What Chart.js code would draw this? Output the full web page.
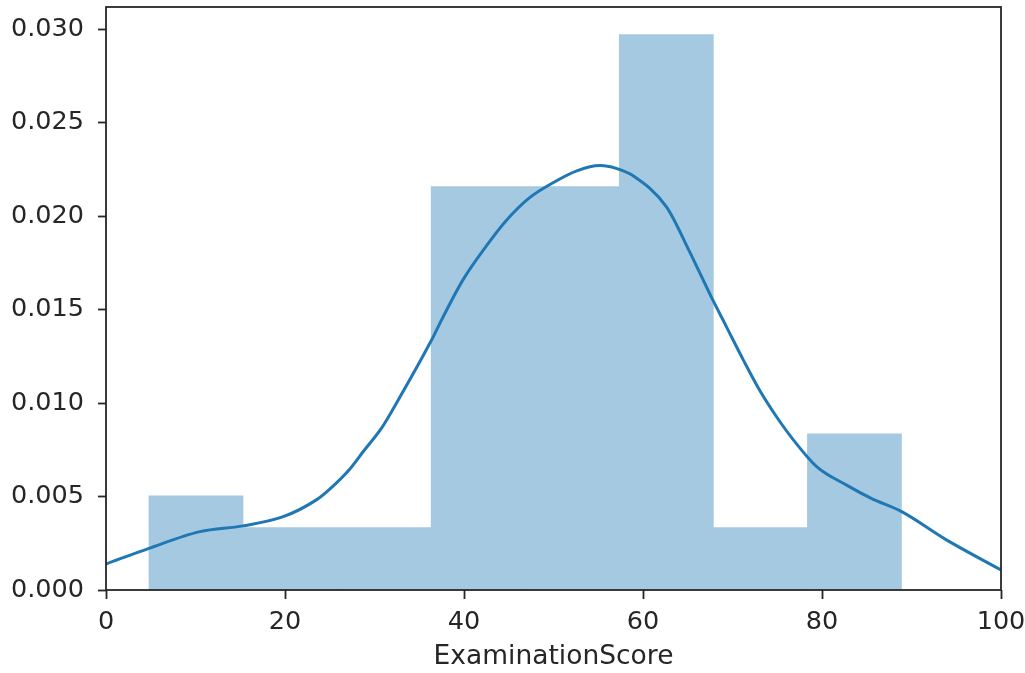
<!DOCTYPE html>
<html>
<head>
<meta charset="utf-8">
<script src="https://cdn.jsdelivr.net/npm/chart.js@4.4.0/dist/chart.umd.min.js"></script>
<style>
  html, body { margin: 0; padding: 0; background: #ffffff; }
  #wrap { width: 1025px; height: 673px; }
</style>
</head>
<body>
<div id="wrap"><canvas id="c" width="1025" height="673"></canvas></div>
<script>
// Histogram bin edges (ExaminationScore) and densities
const binEdges = [4.8, 15.31, 25.82, 36.33, 46.84, 57.35, 67.86, 78.37, 88.88];
const binDensity = [0.00503, 0.00334, 0.00334, 0.02157, 0.02157, 0.02971, 0.00334, 0.00835];

// KDE curve
const kdeX = [0, 4.8, 10.5, 15.3, 19.8, 23.5, 25.0, 27.2, 28.7, 30.9, 32.4, 36.3, 37.5, 39.9, 42.5, 44.7, 47.3, 49.9, 52.6, 55.2, 57.0, 58.9, 62.6, 65.2, 67.6, 69.3, 71.2, 73.0, 74.9, 76.8, 79.4, 82.7, 85.5, 88.9, 93.9, 100];
const kdeY = [0.00139, 0.00223, 0.00312, 0.00343, 0.00392, 0.00482, 0.0054, 0.00645, 0.00738, 0.00874, 0.00995, 0.0133, 0.01445, 0.0166, 0.0184, 0.01975, 0.02097, 0.02177, 0.02242, 0.0227, 0.02255, 0.02215, 0.0205, 0.0181, 0.0157, 0.0141, 0.01231, 0.01071, 0.00928, 0.00803, 0.0066, 0.00562, 0.0049, 0.00419, 0.00268, 0.00107];

// Axis ticks
const xTicks = [0, 20, 40, 60, 80, 100];
const yTicks = [0.000, 0.005, 0.010, 0.015, 0.020, 0.025, 0.030];
const xLabel = 'ExaminationScore';

const barData = binDensity.map((d, i) => ({ x: (binEdges[i] + binEdges[i + 1]) / 2, y: d }));
const kdeData = kdeX.map((x, i) => ({ x: x, y: kdeY[i] }));

const AX = '#262626';

const framePlugin = {
  id: 'frame',
  afterDraw(chart) {
    const { ctx, chartArea: a } = chart;
    ctx.save();
    ctx.strokeStyle = AX;
    ctx.lineWidth = 1.8;
    ctx.strokeRect(a.left, a.top, a.right - a.left, a.bottom - a.top);
    ctx.restore();
  }
};

new Chart(document.getElementById('c'), {
  type: 'bar',
  data: {
    datasets: [
      {
        type: 'line',
        data: kdeData,
        borderColor: '#1f77b4',
        borderWidth: 3,
        pointRadius: 0,
        fill: false,
        cubicInterpolationMode: 'monotone',
        order: 0
      },
      {
        type: 'bar',
        data: barData,
        backgroundColor: '#a5c9e1',
        borderWidth: 0,
        barPercentage: 1.0,
        categoryPercentage: 1.0,
        order: 1
      }
    ]
  },
  options: {
    responsive: false,
    animation: false,
    layout: { padding: { top: 7, right: 24, left: 0, bottom: 0 } },
    plugins: { legend: { display: false }, tooltip: { enabled: false } },
    scales: {
      x: {
        type: 'linear',
        min: 0, max: 100,
        offset: false,
        afterFit(s) { s.height = 83; s.paddingLeft = 0; s.paddingRight = 0; },
        afterBuildTicks(s) { s.ticks = xTicks.map(v => ({ value: v })); },
        ticks: {
          color: AX,
          font: { family: 'DejaVu Sans', size: 25.5 },
          padding: 8,
          maxRotation: 0,
          callback: v => String(v)
        },
        grid: { offset: false, drawOnChartArea: false, drawTicks: true, tickLength: 9, tickColor: AX, tickWidth: 1.8 },
        border: { display: false },
        title: {
          display: true,
          text: xLabel,
          color: AX,
          font: { family: 'DejaVu Sans', size: 26.5 },
          padding: { top: 0, bottom: 0 }
        }
      },
      y: {
        min: 0, max: 0.03118,
        afterFit(s) { s.width = 106; s.paddingTop = 0; s.paddingBottom = 0; },
        afterBuildTicks(s) { s.ticks = yTicks.map(v => ({ value: v })); },
        ticks: {
          color: AX,
          font: { family: 'DejaVu Sans', size: 25.5 },
          padding: 14,
          callback: v => Number(v).toFixed(3)
        },
        grid: { drawOnChartArea: false, drawTicks: true, tickLength: 8, tickColor: AX, tickWidth: 1.8 },
        border: { display: false }
      }
    }
  },
  plugins: [framePlugin]
});
</script>
</body>
</html>
